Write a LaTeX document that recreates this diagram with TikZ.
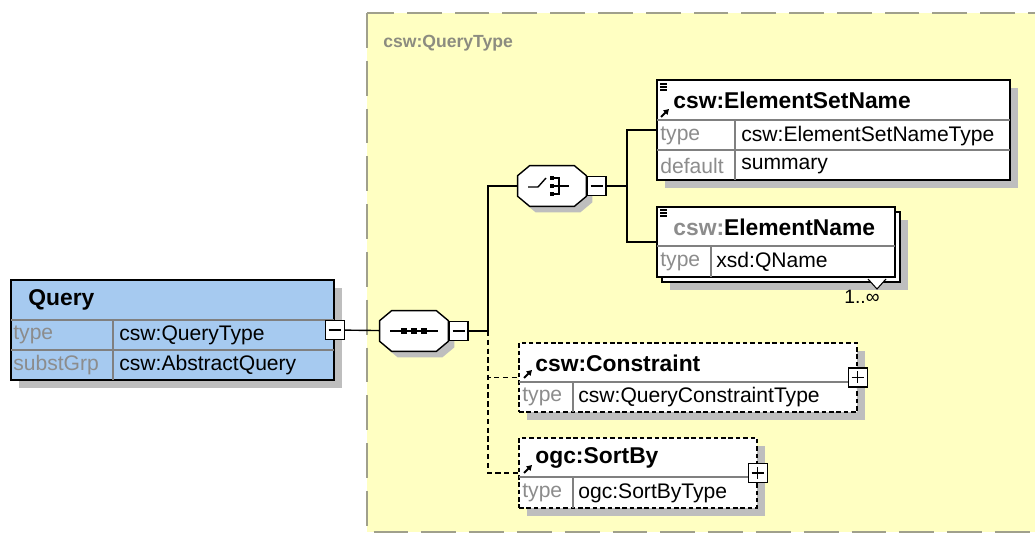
\documentclass[tikz,border=0pt]{standalone}
\usepackage{fontspec}
\setmainfont{Liberation Sans}
\usetikzlibrary{positioning, fit, calc, shadows, arrows.meta}

\definecolor{qtyellow}{RGB}{255,255,194}
\definecolor{qtborder}{RGB}{160,160,140}
\definecolor{titlegray}{RGB}{140,140,128}
\definecolor{queryblue}{RGB}{166,202,240}
\definecolor{shadowgray}{RGB}{190,190,190}
\definecolor{labelgray}{RGB}{140,140,140}
\definecolor{sepgray}{RGB}{128,128,128}

\tikzset{
  boxshadow/.style={drop shadow={shadow xshift=0.16cm, shadow yshift=-0.16cm, fill=shadowgray, opacity=1}},
  plainelem/.style={draw, fill=white, line width=0.8pt, inner sep=0pt},
  elem/.style={plainelem, boxshadow},
  optelem/.style={elem, dash pattern=on 2.6pt off 1.6pt},
  rowsep/.style={draw=sepgray, line width=0.6pt},
  hdr/.style={anchor=west, inner sep=0pt, font=\fontsize{13}{15}\selectfont\bfseries},
  cell/.style={anchor=west, inner sep=0pt, font=\fontsize{12}{14}\selectfont},
  lbl/.style={cell, text=labelgray},
  compo/.style={minimum width=1.36cm, minimum height=0.8cm, inner sep=0pt},
  compline/.style={draw, fill=white, line width=0.8pt,
    drop shadow={shadow xshift=0.12cm, shadow yshift=-0.12cm, fill=shadowgray, opacity=1}},
  pmbox/.style={draw, fill=white, line width=0.8pt, minimum size=0.38cm, inner sep=0pt},
  minussign/.style={pmbox, path picture={\draw[line width=0.8pt]
    ([xshift=0.07cm]path picture bounding box.west) -- ([xshift=-0.07cm]path picture bounding box.east);}},
  plussign/.style={pmbox, path picture={\draw[line width=0.8pt]
    ([xshift=0.07cm]path picture bounding box.west) -- ([xshift=-0.07cm]path picture bounding box.east)
    ([yshift=-0.07cm]path picture bounding box.north) -- ([yshift=0.07cm]path picture bounding box.south);}},
  link/.style={line width=0.8pt},
  optlink/.style={line width=0.8pt, dash pattern=on 3pt off 2pt},
  refarrow/.style={line width=1.1pt, -{Triangle[length=3pt, width=3.4pt]}}
}

% octagon round a compositor node
\newcommand{\compshape}[1]{%
  \path[compline] ($(#1.north west)+(12,0)$) -- ($(#1.north east)+(-12,0)$)
    -- ($(#1.north east)+(0,10)$) -- ($(#1.south east)+(0,-10)$)
    -- ($(#1.south east)+(-12,0)$) -- ($(#1.south west)+(12,0)$)
    -- ($(#1.south west)+(0,-10)$) -- ($(#1.north west)+(0,10)$) -- cycle;}

\begin{document}
\begin{tikzpicture}[x=0.02cm, y=-0.02cm]
\useasboundingbox (0,0) rectangle (1035,536);
\clip (0,0) rectangle (1035,536);
\fill[white] (0,0) rectangle (1035,536);

% complex type area
\draw[fill=qtyellow, draw=qtborder, line width=1.1pt, dash pattern=on 19.8pt off 7.4pt]
  (367,13) rectangle (1080,532);
\node (qtname) [anchor=west, inner sep=0pt, text=titlegray, font=\fontsize{10}{12}\selectfont\bfseries]
  at (383,43) {csw:QueryType};

% global element Query
\node (query) [elem, fill=queryblue, fit={(11,280) (334,380)}] {};
\draw[rowsep] (11,320) -- (334,320) (11,350) -- (334,350) (113,320) -- (113,380);
\node (queryhd) [hdr] at (28,300) {Query};
\node (querytl) [lbl] at (13,335) {type};
\node (querytv) [cell] at (119,335) {csw:QueryType};
\node (querysl) [lbl] at (13,365) {substGrp};
\node (querysv) [cell] at (119,365) {csw:AbstractQuery};
\node (qminus) [minussign] at (query.east) {};

% sequence
\node (seq) [compo] at (414,331) {};
\compshape{seq}
\begin{scope}[shift={(seq)}]
  \draw[line width=0.8pt] (-24,0) -- (24,0);
  \foreach \dx in {-10,0,10}
    \fill (\dx-3,-3) rectangle (\dx+3,3);
\end{scope}
\node (seqminus) [minussign, right=0pt of seq] {};

% choice
\node (choice) [compo] at (552,186) {};
\compshape{choice}
\begin{scope}[shift={(choice)}]
  \draw[line width=0.8pt] (-24,1) -- (-14,1) -- (-6,-8);
  \foreach \dy in {-8,0,8}
    \fill (-2,\dy-2) rectangle (2,\dy+2);
  \draw[line width=0.8pt] (2,-8) -- (7,-8) -- (7,8) -- (2,8) (2,0) -- (17,0);
\end{scope}
\node (chminus) [minussign, right=0pt of choice] {};

% csw:ElementSetName
\node (esn) [elem, fit={(657,80) (1010,180)}] {};
\draw[rowsep] (657,120) -- (1010,120) (657,150) -- (1010,150) (735,120) -- (735,180);
\foreach \y in {84,87,90}
  \draw[line width=0.6pt] (660,\y) -- (667,\y);
\draw[refarrow] (661,117) -- (669,109);
\node (esnhd) [hdr] at (673,100) {csw:ElementSetName};
\node (esntl) [lbl] at (660,136) {type};
\node (esntv) [cell] at (741,136) {csw:ElementSetNameType};
\node (esndl) [lbl] at (660,166) {default};
\node (esndv) [cell] at (741,166) {summary};

% csw:ElementName
\node (enback) [elem, fit={(662,212) (900,282)}] {};
\node (en) [plainelem, fit={(657,207) (895,277)}] {};
\draw[rowsep] (657,246) -- (895,246) (711,246) -- (711,277);
\foreach \y in {210,213,216}
  \draw[line width=0.6pt] (660,\y) -- (667,\y);
\node (enhd) [hdr] at (673,227) {\textcolor{labelgray}{csw:}ElementName};
\node (entl) [lbl] at (660,262) {type};
\node (entv) [cell] at (716,262) {xsd:QName};
\draw[fill=white, line width=0.6pt] (868,279) -- (877,289) -- (886,279);
\node (enmult) [inner sep=0pt, font=\fontsize{11}{13}\selectfont] at (862,297) {1..∞};

% csw:Constraint
\node (cons) [optelem, fit={(519,343) (857,412)}] {};
\draw[rowsep] (519,382) -- (857,382) (573,382) -- (573,412);
\draw[refarrow] (524,378) -- (532,370);
\node (conshd) [hdr] at (535,363) {csw:Constraint};
\node (constl) [lbl] at (522,397) {type};
\node (constv) [cell] at (578,397) {csw:QueryConstraintType};
\node (consplus) [plussign] at (cons.east) {};

% ogc:SortBy
\node (sortby) [optelem, fit={(519,438) (757,508)}] {};
\draw[rowsep] (519,477) -- (757,477) (573,477) -- (573,508);
\draw[refarrow] (524,473) -- (532,465);
\node (sorthd) [hdr] at (535,458) {ogc:SortBy};
\node (sorttl) [lbl] at (522,493) {type};
\node (sorttv) [cell] at (578,493) {ogc:SortByType};
\node (sortplus) [plussign] at (sortby.east) {};

% connectors
\coordinate (fork) at (488,331);
\coordinate (cfork) at (627,186);
\draw[link] (qminus) -- (seq);
\draw[link] (seqminus) -- (fork) |- (choice);
\draw[optlink] (fork) |- (cons);
\draw[optlink] (fork) |- (sortby);
\draw[link] (chminus) -- (cfork) |- (esn);
\draw[link] (cfork) |- (en);
\end{tikzpicture}
\end{document}
